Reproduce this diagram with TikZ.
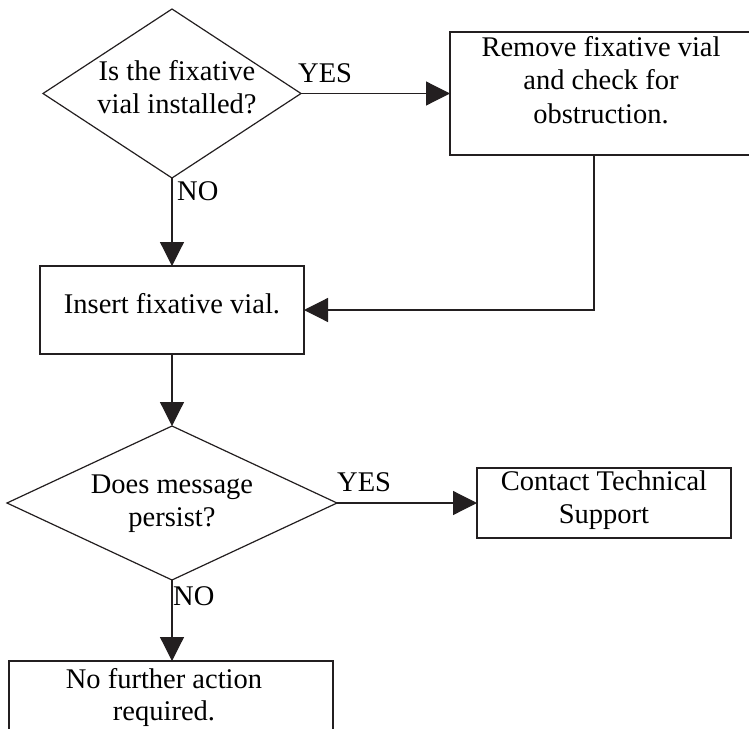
\documentclass[tikz,border=0pt]{standalone}
\usepackage{fontspec}
\setmainfont{Liberation Serif}
\usetikzlibrary{arrows.meta,shapes.geometric}
\definecolor{ink}{HTML}{231F20}
\begin{document}
\begin{tikzpicture}[x=1pt,y=-1pt,
  ln/.style={draw=ink,line width=1.2pt},
  arr/.style={ln,-{Triangle[length=24pt,width=24pt]}},
  txt/.style={font=\fontsize{28.5}{33}\selectfont,inner sep=0,anchor=base,text=black},
  lbl/.style={txt,anchor=base west},
  dia/.style={diamond,ln,inner sep=0,outer sep=0},
  box/.style={rectangle,ln,inner sep=0,outer sep=0}]
\useasboundingbox (0,0) rectangle (749,728);

\node[dia,minimum width=258pt,minimum height=169pt] (d1) at (172,93.5) {};
\node[box,minimum width=305pt,minimum height=123pt] (r1) at (602.5,93.5) {};
\node[box,minimum width=264pt,minimum height=88pt] (r2) at (172,310) {};
\node[dia,minimum width=330pt,minimum height=154pt] (d2) at (172,503) {};
\node[box,minimum width=254pt,minimum height=70pt] (r3) at (604,503) {};
\node[box,minimum width=324pt,minimum height=80pt] (r4) at (171,701) {};

\node[txt] (t1a) at (177,80) {Is the fixative};
\node[txt] (t1b) at (177,113) {vial installed?};
\node[txt] (t2a) at (601,56) {Remove fixative vial};
\node[txt] (t2b) at (601,89) {and check for};
\node[txt] (t2c) at (601,123) {obstruction.};
\node[txt] (t3) at (172,313) {Insert fixative vial.};
\node[txt] (t4a) at (172,493) {Does message};
\node[txt] (t4b) at (172,526) {persist?};
\node[txt] (t5a) at (604,490) {Contact Technical};
\node[txt] (t5b) at (604,523) {Support};
\node[txt] (t6a) at (164,688) {No further action};
\node[txt] (t6b) at (164,720) {required.};

\node[lbl] (y1) at (298,82) {YES};
\node[lbl] (n1) at (177,200) {NO};
\node[lbl] (y2) at (337,491) {YES};
\node[lbl] (n2) at (173,605) {NO};

\draw[arr] (d1.east) -- (r1.west);
\draw[arr] (d1.south) -- (r2.north);
\coordinate (fb) at (594,0);
\draw[arr] (r1.south -| fb) |- (r2.east);
\draw[arr] (r2.south) -- (d2.north);
\draw[arr] (d2.east) -- (r3.west);
\draw[arr] (d2.south) -- (d2.south |- r4.north);
\end{tikzpicture}
\end{document}
